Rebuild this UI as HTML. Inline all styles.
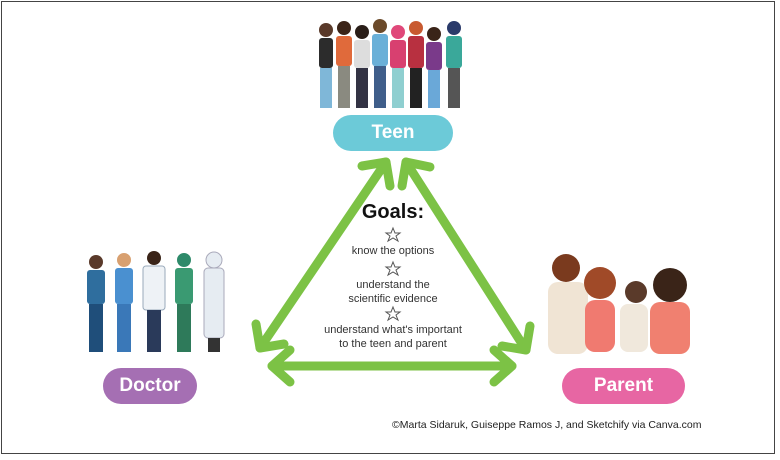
<!DOCTYPE html>
<html><head><meta charset="utf-8"><style>
body{margin:0;background:#fff;}
.wrap{position:relative;width:780px;height:460px;overflow:hidden;font-family:"Liberation Sans",sans-serif;}
.frame{position:absolute;left:1px;top:1px;width:774px;height:453px;border:1px solid #444;box-sizing:border-box;}
.pill{position:absolute;border-radius:18px;color:#fff;font-weight:bold;font-size:19px;text-align:center;line-height:36px;}
.t{position:absolute;width:260px;left:263px;text-align:center;font-size:11px;color:#333;}
</style></head><body><div class="wrap">
<div class="frame"></div>
<svg width="780" height="460" style="position:absolute;left:0;top:0">
<g stroke="#7cc245" stroke-width="9" stroke-linecap="round" fill="none" stroke-linejoin="round">
<line x1="260" y1="348" x2="386" y2="162"/>
<polyline points="362,166 386,162 390,186"/>
<polyline points="256,324 260,348 284,344"/>
<line x1="406" y1="162" x2="526" y2="350"/>
<polyline points="402,186 406,162 430,167"/>
<polyline points="502,346 526,350 530,326"/>
<line x1="272" y1="366" x2="512" y2="366"/>
<polyline points="290,350 272,366 290,382"/>
<polyline points="494,350 512,366 494,382"/>
</g>
<g stroke="#555" stroke-width="1" fill="none">
<polygon points="393,228 395,233 400,233 396,236 398,241 393,238 388,241 390,236 386,233 391,233"/>
<polygon points="393,262 395,267 400,267 396,270 398,275 393,272 388,275 390,270 386,267 391,267"/>
<polygon points="393,307 395,312 400,312 396,315 398,320 393,317 388,320 390,315 386,312 391,312"/>
</g>
<!-- teens -->
<g>
<g transform="translate(318,20)"><circle cx="8" cy="10" r="7" fill="#5a3a2a"/><rect x="1" y="18" width="14" height="30" rx="3" fill="#2c2c2c"/><rect x="2" y="48" width="12" height="40" fill="#7fb7d8"/></g>
<g transform="translate(336,18)"><circle cx="8" cy="10" r="7" fill="#3b2418"/><rect x="0" y="18" width="16" height="30" rx="3" fill="#e06a3b"/><rect x="2" y="48" width="12" height="42" fill="#8a8a80"/></g>
<g transform="translate(354,22)"><circle cx="8" cy="10" r="7" fill="#2a1e18"/><rect x="0" y="18" width="16" height="28" rx="3" fill="#ddd"/><rect x="2" y="46" width="12" height="40" fill="#334"/></g>
<g transform="translate(372,16)"><circle cx="8" cy="10" r="7" fill="#6b4a2a"/><rect x="0" y="18" width="16" height="32" rx="3" fill="#6ab0d8"/><rect x="2" y="50" width="12" height="42" fill="#3f5e8a"/></g>
<g transform="translate(390,22)"><circle cx="8" cy="10" r="7" fill="#e0487a"/><rect x="0" y="18" width="16" height="28" rx="3" fill="#d84070"/><rect x="2" y="46" width="12" height="40" fill="#8fcfd0"/></g>
<g transform="translate(408,18)"><circle cx="8" cy="10" r="7" fill="#c85a30"/><rect x="0" y="18" width="16" height="32" rx="3" fill="#b83040"/><rect x="2" y="50" width="12" height="40" fill="#222"/></g>
<g transform="translate(426,24)"><circle cx="8" cy="10" r="7" fill="#3a2418"/><rect x="0" y="18" width="16" height="28" rx="3" fill="#7a3a8a"/><rect x="2" y="46" width="12" height="38" fill="#6aa8d8"/></g>
<g transform="translate(446,18)"><circle cx="8" cy="10" r="7" fill="#2a3a6a"/><rect x="0" y="18" width="16" height="32" rx="3" fill="#3aa89a"/><rect x="2" y="50" width="12" height="40" fill="#555"/></g>
</g>
<!-- doctors -->
<g>
<g transform="translate(84,252)"><circle cx="12" cy="10" r="7" fill="#5a3a2a"/><rect x="3" y="18" width="18" height="34" rx="3" fill="#2f6e9e"/><rect x="5" y="52" width="14" height="48" fill="#1f4e7a"/></g>
<g transform="translate(112,250)"><circle cx="12" cy="10" r="7" fill="#d8a070"/><rect x="3" y="18" width="18" height="36" rx="3" fill="#4a90d0"/><rect x="5" y="54" width="14" height="48" fill="#3a78b8"/></g>
<g transform="translate(142,248)"><circle cx="12" cy="10" r="7" fill="#3a2418"/><rect x="1" y="18" width="22" height="44" rx="3" fill="#eef2f6" stroke="#9ab" stroke-width="1"/><rect x="5" y="62" width="14" height="42" fill="#2a3a5a"/></g>
<g transform="translate(172,250)"><circle cx="12" cy="10" r="7" fill="#2e8a6a"/><rect x="3" y="18" width="18" height="36" rx="3" fill="#3a9a72"/><rect x="5" y="54" width="14" height="48" fill="#2e7a5a"/></g>
<g transform="translate(202,250)"><circle cx="12" cy="10" r="8" fill="#e6ecf2" stroke="#aab" stroke-width="1"/><rect x="2" y="18" width="20" height="70" rx="4" fill="#e6ecf2" stroke="#aab" stroke-width="1"/><rect x="6" y="88" width="12" height="14" fill="#333"/></g>
</g>
<!-- family -->
<g>
<circle cx="566" cy="268" r="14" fill="#7a3a1e"/><rect x="548" y="282" width="40" height="72" rx="10" fill="#f0e4d4"/>
<circle cx="600" cy="283" r="16" fill="#a04a28"/><rect x="585" y="300" width="30" height="52" rx="10" fill="#f07a70"/>
<circle cx="636" cy="292" r="11" fill="#5a3a2a"/><rect x="620" y="304" width="28" height="48" rx="8" fill="#f0e8dc"/>
<circle cx="670" cy="285" r="17" fill="#3a2418"/><rect x="650" y="302" width="40" height="52" rx="10" fill="#f08070"/>
</g>
</svg>
<div class="pill" style="left:333px;top:115px;width:120px;background:#6ccad8;">Teen</div>
<div class="pill" style="left:103px;top:368px;width:94px;background:#a56fb3;">Doctor</div>
<div class="pill" style="left:562px;top:368px;width:123px;background:#e766a3;">Parent</div>
<div class="t" style="top:201px;font-size:20px;font-weight:bold;color:#111;">Goals:</div>
<div class="t" style="top:245px;">know the options</div>
<div class="t" style="top:278px;line-height:14px;">understand the<br>scientific evidence</div>
<div class="t" style="top:323px;line-height:14px;">understand what's important<br>to the teen and parent</div>
<div style="position:absolute;left:392px;top:419px;font-size:10.5px;color:#222;">©Marta Sidaruk, Guiseppe Ramos J, and Sketchify via Canva.com</div>
</div></body></html>
